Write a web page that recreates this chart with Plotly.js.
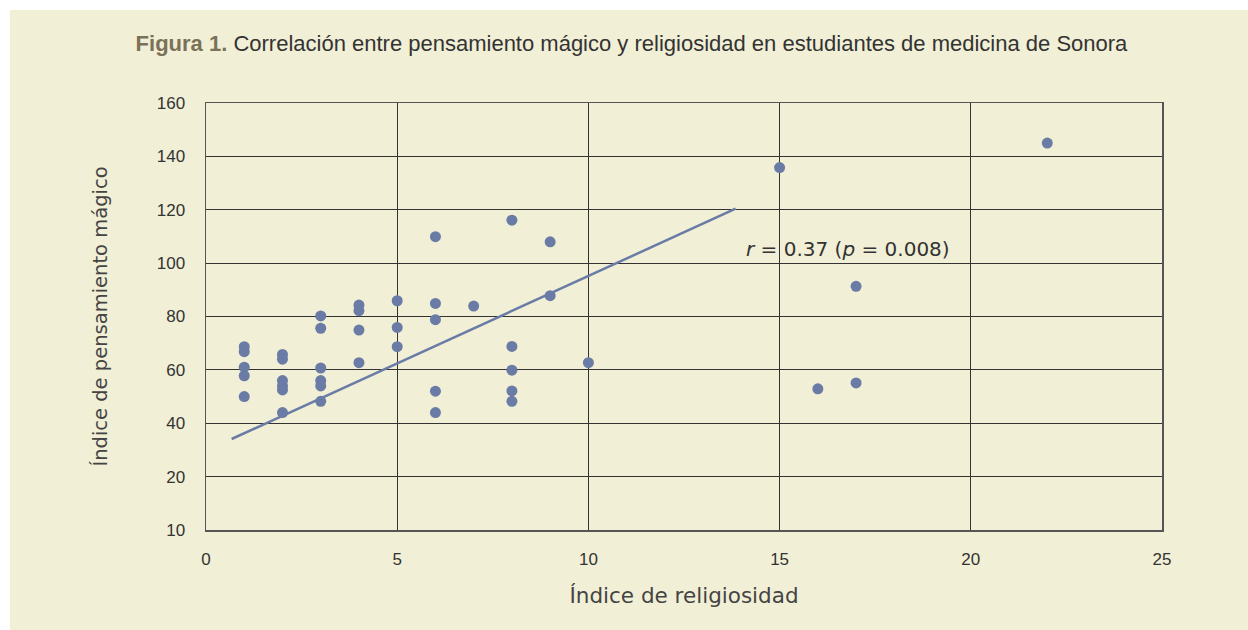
<!DOCTYPE html>
<html>
<head>
<meta charset="utf-8">
<script src="https://cdn.plot.ly/plotly-3.0.1.min.js"></script>
<style>
  html, body { margin: 0; padding: 0; background: #ffffff; }
  #chart { position: absolute; left: 10px; top: 10px; width: 1238px; height: 620px; }
</style>
</head>
<body>
<div id="chart"></div>
<script>
// Data
const religiosidad = [1,1,1,1,1, 2,2,2,2,2,2, 3,3,3,3,3,3, 4,4,4,4, 5,5,5, 6,6,6,6,6, 7, 8,8,8,8,8, 9,9, 10, 15, 16, 17,17, 22];
const pensamientoMagico = [68.7,66.8,61,57.8,50, 65.8,64,56,54,52.5,44, 80.2,75.6,60.7,56,54,48.2, 84.3,82.2,74.9,62.7, 85.9,75.9,68.7, 109.9,84.9,78.8,52,44, 83.9, 116.1,68.8,59.9,52.1,48.2, 108,87.8, 62.7, 135.8, 52.9, 91.3,55.1, 145];

// Regression line end points
const lineaX = [0.67, 13.85];
const lineaY = [34.1, 120.4];

// Tick labels
const xTickVals = [0, 5, 10, 15, 20, 25];
const yTickVals = [0, 20, 40, 60, 80, 100, 120, 140, 160];
const yTickText = ["10", "20", "40", "60", "80", "100", "120", "140", "160"];

const tituloFigura = "<b>Figura 1.</b>";
const tituloTexto = " Correlación entre pensamiento mágico y religiosidad en estudiantes de medicina de Sonora";
const anotacion = "<i>r</i> = 0.37 (<i>p</i> = 0.008)";

const azul = "#6a7ba6";
const fondo = "#f1efd6";
const rejilla = "#333333";
const fuente = "Liberation Sans, Arial, sans-serif";
const fuenteAncha = "DejaVu Sans, Liberation Sans, sans-serif";

const traces = [
  {
    x: lineaX, y: lineaY, type: "scatter", mode: "lines",
    line: { color: azul, width: 2.5 }, hoverinfo: "skip", showlegend: false
  },
  {
    x: religiosidad, y: pensamientoMagico, type: "scatter", mode: "markers",
    marker: { color: azul, size: 11 }, showlegend: false
  }
];

const layout = {
  width: 1238, height: 620,
  paper_bgcolor: fondo, plot_bgcolor: fondo,
  margin: { l: 196, r: 86, t: 93, b: 100 },
  font: { family: fuente, color: "#333333", size: 16 },
  title: {
    text: '<span style="color:#7a7158">' + tituloFigura + '</span>' + tituloTexto,
    font: { family: fuente, size: 22, color: "#333333" },
    xref: "container", x: 0.502, xanchor: "center",
    yref: "container", y: 0.947, yanchor: "middle"
  },
  xaxis: {
    range: [0, 25], tickvals: xTickVals,
    showgrid: true, gridcolor: rejilla, gridwidth: 1,
    zeroline: false, showline: true, mirror: true, linecolor: "#555555", linewidth: 1.5,
    ticks: "", ticklabelstandoff: 13,
    tickfont: { size: 17, color: "#333333" },
    title: { text: "Índice de religiosidad", font: { family: fuenteAncha, size: 21.5, color: "#444444" }, standoff: 20 },
    fixedrange: true
  },
  yaxis: {
    range: [0, 160], tickvals: yTickVals, ticktext: yTickText,
    showgrid: true, gridcolor: rejilla, gridwidth: 1,
    zeroline: false, showline: true, mirror: true, linecolor: "#555555", linewidth: 1.5,
    ticks: "", ticklabelstandoff: 16,
    tickfont: { size: 17, color: "#333333" },
    title: { text: "Índice de pensamiento mágico", font: { family: fuenteAncha, size: 19.5, color: "#444444" }, standoff: 44 },
    fixedrange: true
  },
  annotations: [
    {
      x: 16.8, y: 105.3, xref: "x", yref: "y", text: anotacion, showarrow: false,
      font: { size: 20, color: "#333333", family: fuenteAncha },
      xanchor: "center", yanchor: "middle"
    }
  ]
};

Plotly.newPlot("chart", traces, layout, { displayModeBar: false, staticPlot: true });
</script>
</body>
</html>
